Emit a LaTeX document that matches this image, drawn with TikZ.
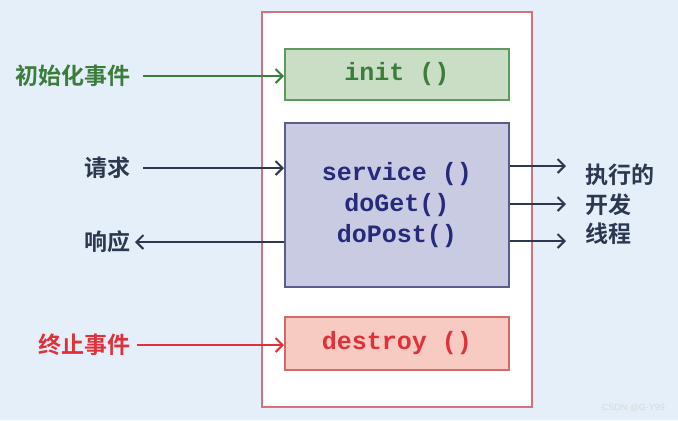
\documentclass[tikz,border=0pt]{standalone}
\usepackage{fontspec}
\setmainfont{Liberation Sans}
\setmonofont{Liberation Mono}
\newfontfamily\cjk{Noto Sans CJK SC}[BoldFont={Noto Sans CJK SC Bold}]
\usepackage{xcolor}
\usepackage{tikz}
\usetikzlibrary{arrows.meta}

\definecolor{bgblue}{HTML}{E4EFFA}
\definecolor{outerred}{HTML}{D8707A}
\definecolor{evtgreen}{HTML}{3B7D3B}
\definecolor{initfill}{HTML}{CADEC6}
\definecolor{initline}{HTML}{5E9A5E}
\definecolor{svcfill}{HTML}{C9CBE2}
\definecolor{svcline}{HTML}{5A5E8C}
\definecolor{svctext}{HTML}{262A7A}
\definecolor{darktext}{HTML}{2B3850}
\definecolor{endfill}{HTML}{F7CBC2}
\definecolor{endline}{HTML}{D26A6A}
\definecolor{endred}{HTML}{E0303A}

\tikzset{
    phase/.style = {draw, line width = 1pt, minimum width = 112pt,
        font = \ttfamily\bfseries\fontsize{12.5}{15.5}\selectfont},
    evtlabel/.style = {font = \cjk\bfseries\fontsize{11.5}{14}\selectfont, inner sep = 0pt},
    flow/.style = {->, line width = 1pt}
}

\begin{document}
\begin{tikzpicture}[x = 0.5pt, y = -0.5pt, >={Straight Barb[length = 3.5pt, width = 7pt]}]
        \fill[bgblue] (0, 0) rectangle (678, 420);
        \useasboundingbox (0, 0) rectangle (678, 420);

        % servlet container
        \filldraw[draw = outerred, fill = white, line width = 0.8pt] (262, 12) rectangle (532, 407);

        \node[phase, draw = initline, fill = initfill, text = evtgreen, minimum height = 25.5pt]
            (init) at (397, 74.5) {init ()};
        \node[phase, draw = svcline, fill = svcfill, text = svctext, minimum height = 82pt, align = center]
            (service) at (397, 205) {service ()\\doGet()\\doPost()};
        \node[phase, draw = endline, fill = endfill, text = endred, minimum height = 26.5pt]
            (destroy) at (397, 343.5) {destroy ()};

        % labels on the left
        \node[evtlabel, text = evtgreen, anchor = east] (initEvt) at (131, 76) {初始化事件};
        \node[evtlabel, text = darktext, anchor = east] (req) at (131, 168) {请求};
        \node[evtlabel, text = darktext, anchor = east] (resp) at (131, 242) {响应};
        \node[evtlabel, text = endred, anchor = east] (endEvt) at (131, 345) {终止事件};

        \draw[flow, evtgreen] ([xshift = 6pt] initEvt.east) -- (init.west |- initEvt);
        \draw[flow, darktext] ([xshift = 6pt] req.east) -- (service.west |- req);
        \draw[flow, darktext] (service.west |- resp) -- ([xshift = 2pt] resp.east);
        \draw[flow, endred] ([xshift = 3pt] endEvt.east) -- (destroy.west |- endEvt);

        % threads on the right
        \node[evtlabel, text = darktext, anchor = west] (thr1) at (585, 175) {执行的};
        \node[evtlabel, text = darktext, anchor = west] (thr2) at (585, 205) {开发};
        \node[evtlabel, text = darktext, anchor = west] (thr3) at (585, 234) {线程};

        \coordinate (out1) at (566, 166);
        \coordinate (out2) at (566, 204);
        \coordinate (out3) at (566, 241);
        \foreach \i in {1, 2, 3}
            \draw[flow, darktext] (service.east |- out\i) -- (out\i);

        \node[text = white!70!gray, font = \fontsize{4.5}{5}\selectfont, anchor = east] (mark) at (672, 408) {CSDN @G-Y99};
    \end{tikzpicture}
\end{document}
